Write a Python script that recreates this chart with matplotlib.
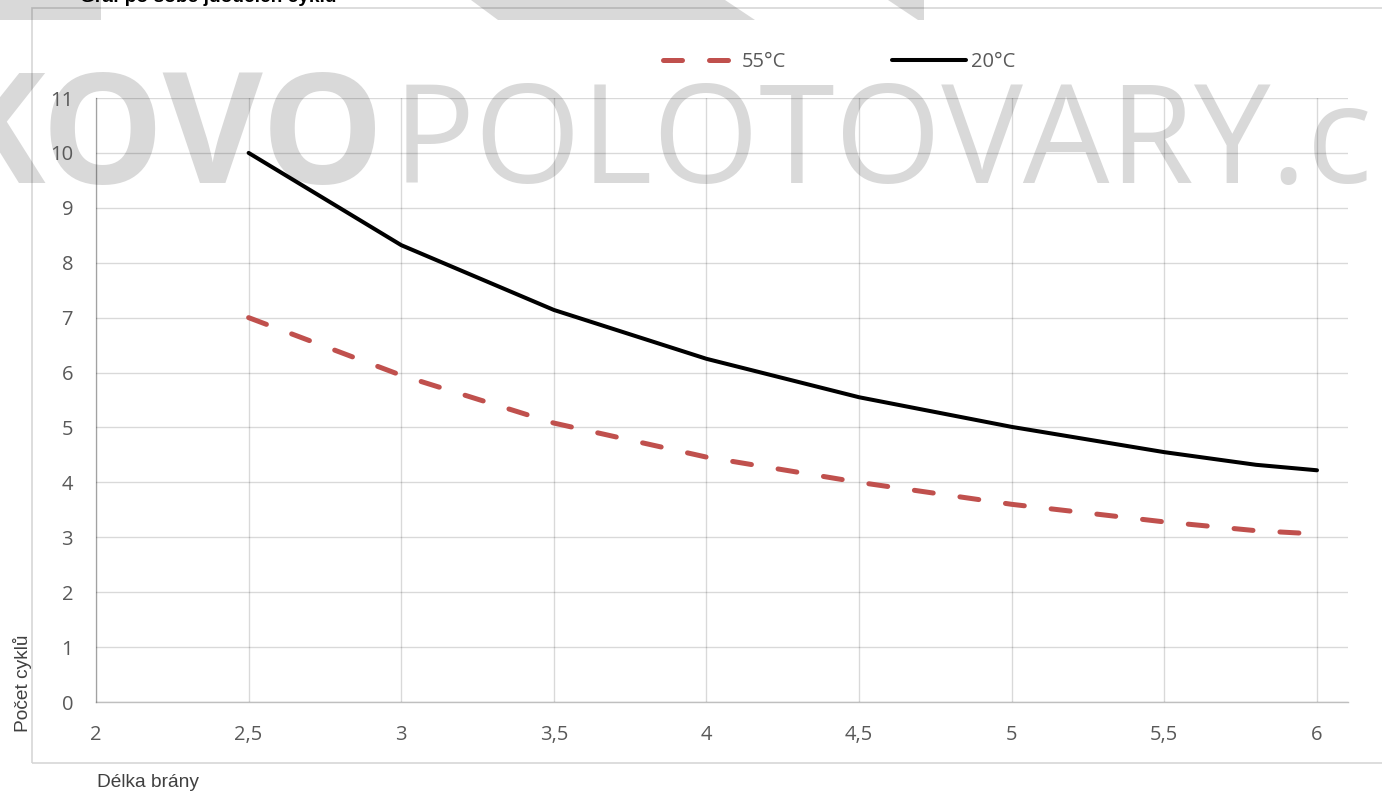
import matplotlib
matplotlib.use('Agg')
import matplotlib.pyplot as plt
import matplotlib.font_manager as fm
from matplotlib.font_manager import FontProperties
from matplotlib.patches import Rectangle, Polygon
from matplotlib.textpath import TextPath

# ---------------- data ----------------
x_55 = [2.5, 3, 3.5, 4, 4.5, 5, 5.5, 5.8, 6]
y_55 = [7.0, 5.95, 5.08, 4.46, 4.0, 3.6, 3.28, 3.12, 3.06]
x_20 = [2.5, 3, 3.5, 4, 4.5, 5, 5.5, 5.8, 6]
y_20 = [10.0, 8.32, 7.14, 6.25, 5.55, 5.01, 4.55, 4.32, 4.22]
series_labels = ['55°C', '20°C']
x_ticks = [2, 2.5, 3, 3.5, 4, 4.5, 5, 5.5, 6]
x_ticklabels = ['2', '2,5', '3', '3,5', '4', '4,5', '5', '5,5', '6']
y_ticks = list(range(0, 12))
y_ticklabels = [str(v) for v in y_ticks]
title_text = 'Graf po sobě jdoucích cyklů'
x_title = 'Délka brány'
y_title = 'Počet cyklů'
wm_bold = 'KOVO'
wm_regular = 'POLOTOVARY.c'

# ---------------- setup ----------------
W, H = 1382, 792
fig = plt.figure(figsize=(W / 100, H / 100), dpi=100)
fig.patch.set_facecolor('white')

def fx(px):
    return px / W

def fy(py):
    return 1 - py / H

names = {f.name for f in fm.fontManager.ttflist}
if 'Liberation Sans Narrow' in names:
    narrow, nscale = 'Liberation Sans Narrow', 1.0
else:
    narrow, nscale = 'Liberation Sans', 0.82

tick_font = 'Open Sans'
txt_gray = '#595959'
wm_color = '#D9D9D9'

# ---------------- decorative background ----------------
fig.add_artist(Rectangle((0, fy(20)), fx(101), 20 / H, transform=fig.transFigure,
                         facecolor=wm_color, edgecolor='none', zorder=-3))
fig.add_artist(Polygon([(fx(471), fy(0)), (fx(725), fy(0)), (fx(755), fy(20)), (fx(498), fy(20))],
                       closed=True, transform=fig.transFigure, facecolor=wm_color,
                       edgecolor='none', zorder=-3))
fig.add_artist(Polygon([(fx(888), fy(0)), (fx(924), fy(0)), (fx(924), fy(20)), (fx(918), fy(20))],
                       closed=True, transform=fig.transFigure, facecolor=wm_color,
                       edgecolor='none', zorder=-3))

# watermark text
cap_px = 110.0
fp_b = FontProperties(family='Open Sans', weight='bold')
capb = TextPath((0, 0), 'P', size=1, prop=fp_b).get_extents().y1
em_b = cap_px / capb
ext_b = TextPath((0, 0), wm_bold, size=1, prop=fp_b).get_extents()
fig.text(fx(375 - ext_b.x1 * em_b), fy(183), wm_bold, fontproperties=fp_b,
         fontsize=em_b * 0.72, color=wm_color, ha='left', va='baseline', zorder=-2)

fp_r = FontProperties(family='Open Sans', weight='normal')
ext_r = TextPath((0, 0), 'POLOTOVARY.', size=1, prop=fp_r).get_extents()
em_r = (1297 - 406) / ext_r.width
fig.text(fx(406 - ext_r.x0 * em_r), fy(183), wm_regular, fontproperties=fp_r,
         fontsize=em_r * 0.72, color=wm_color, ha='left', va='baseline', zorder=-2)

# outer chart border (right side runs off canvas)
fig.add_artist(Rectangle((fx(32), fy(763)), fx(W + 20 - 32), (763 - 8) / H,
                         transform=fig.transFigure, fill=False, edgecolor='black',
                         alpha=0.16, lw=1.2, zorder=-1))

# title (mostly cut at top)
fig.text(fx(80), fy(2.5), title_text, family=narrow, weight='bold',
         fontsize=16.8 * nscale, color='black', ha='left', va='baseline')

# ---------------- axes ----------------
ax = fig.add_axes([fx(96), fy(702), (1348 - 96) / W, (702 - 98) / H])
ax.set_facecolor('none')
ax.set_xlim(2, 6.1016)
ax.set_ylim(0, 11)
ax.set_xticks(x_ticks)
ax.set_xticklabels(x_ticklabels)
ax.set_yticks(y_ticks)
ax.set_yticklabels(y_ticklabels)
ax.tick_params(length=0, pad=16.5, labelsize=14.5, labelcolor=txt_gray)
for lab in ax.get_xticklabels() + ax.get_yticklabels():
    lab.set_family(tick_font)
ax.set_axisbelow(True)
ax.grid(True, color='black', alpha=0.15, lw=1.0)
for s in ['top', 'right']:
    ax.spines[s].set_visible(False)
for s in ['left', 'bottom']:
    ax.spines[s].set_color('black')
    ax.spines[s].set_alpha(0.25)
    ax.spines[s].set_linewidth(1.0)

l55, = ax.plot(x_55, y_55, color='#C0504D', lw=3.6, dashes=(3.8, 5.4),
               dash_capstyle='round', solid_joinstyle='round', label=series_labels[0], zorder=3)
l20, = ax.plot(x_20, y_20, color='black', lw=2.9, solid_capstyle='round',
               solid_joinstyle='round', label=series_labels[1], zorder=4)

fs_px = 14.5 * 100 / 72
ax.legend(handles=[l55, l20], labels=series_labels, loc='center left',
          bbox_to_anchor=(fx(663), fy(62)), bbox_transform=fig.transFigure,
          ncol=2, frameon=False, borderpad=0, borderaxespad=0,
          handlelength=74 / fs_px, handletextpad=5 / fs_px, columnspacing=(892 - 786) / fs_px,
          prop=FontProperties(family=tick_font, size=14.5), labelcolor=txt_gray)

# axis titles
fig.text(fx(97), fy(787), x_title, family=narrow, fontsize=16.8 * nscale,
         color='#404040', ha='left', va='baseline')
fig.text(fx(28), fy(732), y_title, family=narrow, fontsize=16.8 * nscale,
         color='#404040', ha='left', va='baseline', rotation=90, rotation_mode='anchor')

fig.savefig('out.png', dpi=100, facecolor='white')
